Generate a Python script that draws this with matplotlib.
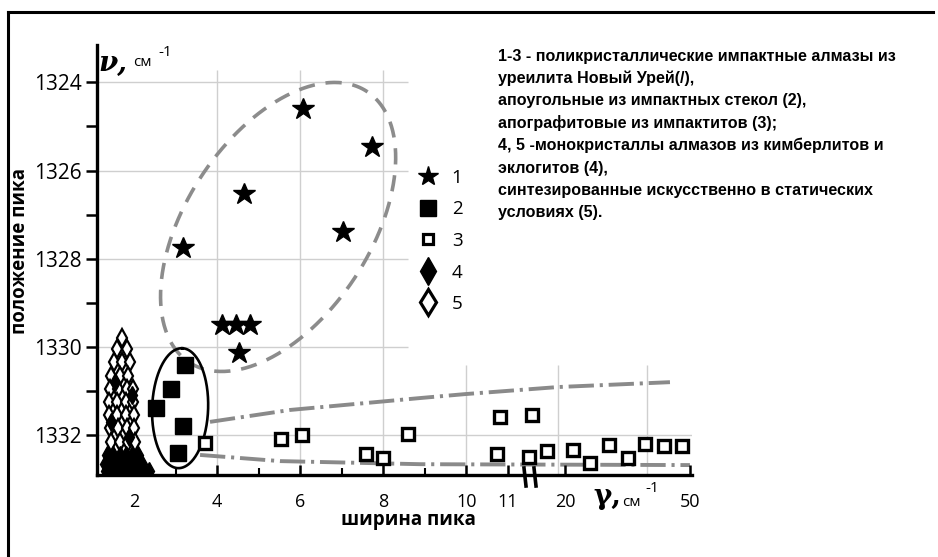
import numpy as np
import matplotlib
matplotlib.use("Agg")
import matplotlib.pyplot as plt
from matplotlib.lines import Line2D

plt.rcParams['font.family'] = ['Open Sans', 'DejaVu Sans']

# ---------------- data ----------------
# 1 - stars
stars_x = [3.18, 4.65, 6.07, 7.04, 7.73, 4.12, 4.46, 4.80, 4.53]
stars_y = [1327.76, 1326.53, 1324.61, 1327.39, 1325.47, 1329.50, 1329.50, 1329.50, 1330.14]
# 2 - filled squares
sq_fill_x = [3.23, 2.89, 2.53, 3.18, 3.06]
sq_fill_y = [1330.41, 1330.95, 1331.38, 1331.79, 1332.40]
# 3 - open squares
sq_open_x = [3.71, 5.54, 6.05, 7.59, 8.00, 8.60, 10.82, 11.85, 10.75, 11.55, 15.55,
             21.9, 26.0, 30.6, 35.1, 39.2, 43.8, 48.1]
sq_open_y = [1332.18, 1332.09, 1332.00, 1332.43, 1332.52, 1331.97, 1331.59, 1331.54,
             1332.43, 1332.50, 1332.36, 1332.34, 1332.63, 1332.22, 1332.52, 1332.20,
             1332.25, 1332.25]
# 4 - filled diamonds
dia_fill_x = [1.35, 1.50, 1.65, 1.80, 1.95, 2.10,
              1.30, 1.45, 1.60, 1.75, 1.90, 2.05, 2.20,
              1.32, 1.47, 1.62, 1.77, 1.92, 2.07, 2.22, 2.35,
              1.45, 1.95, 1.55, 1.88]
dia_fill_y = [1332.45, 1332.45, 1332.45, 1332.45, 1332.45, 1332.45,
              1332.65, 1332.65, 1332.65, 1332.65, 1332.65, 1332.65, 1332.65,
              1332.82, 1332.82, 1332.82, 1332.82, 1332.82, 1332.82, 1332.82, 1332.82,
              1331.70, 1331.10, 1330.80, 1332.05]
# 5 - open diamonds
dia_open_x = [1.72,
              1.60, 1.82,
              1.52, 1.72, 1.90,
              1.45, 1.65, 1.85,
              1.42, 1.62, 1.82, 1.98,
              1.40, 1.60, 1.80, 1.98,
              1.40, 1.60, 1.80, 2.00,
              1.42, 1.62, 1.82, 2.00,
              1.45, 1.65, 1.85, 2.02]
dia_open_y = [1329.80,
              1330.05, 1330.05,
              1330.35, 1330.35, 1330.35,
              1330.65, 1330.65, 1330.65,
              1330.95, 1330.95, 1330.95, 1330.95,
              1331.25, 1331.25, 1331.25, 1331.25,
              1331.55, 1331.55, 1331.55, 1331.55,
              1331.85, 1331.85, 1331.85, 1331.85,
              1332.15, 1332.15, 1332.15, 1332.15]

# trend lines (dash-dot)
upper_x = [3.83, 5.76, 8.89, 9.98, 18.3, 45.2]
upper_y = [1331.70, 1331.43, 1331.16, 1331.07, 1330.91, 1330.80]
lower_x = [3.59, 5.52, 8.89, 50.0]
lower_y = [1332.45, 1332.59, 1332.66, 1332.68]

# axis ticks
y_major = [1324, 1326, 1328, 1330, 1332]
y_minor = [1325, 1327, 1329, 1331]
x_ticks = [2, 4, 6, 8, 10, 11, 20, 50]
x_ticklabels = ['2', '4', '6', '8', '10', '11', '20', '50']
x_minor = [3, 5, 7, 9]

# broken width axis: value -> position knots
scale_vals = [1.0, 11.3, 11.6, 20.0, 52.0]
scale_pos = [0.0, 427.5, 438.5, 472.5, 605.5]

legend_labels = ['1', '2', '3', '4', '5']
note_lines = [
    "1-3 - поликристаллические импактные алмазы из",
    "уреилита Новый Урей(/),",
    "апоугольные из импактных стекол (2),",
    "апографитовые из импактитов (3);",
    "4, 5 -монокристаллы алмазов из кимберлитов и",
    "эклогитов (4),",
    "синтезированные искусственно в статических",
    "условиях (5).",
]

# ---------------- figure ----------------
W, H = 938, 557
fig = plt.figure(figsize=(W / 100, H / 100), dpi=100)
fig.patch.set_facecolor('white')


def fx(px):
    return px / W


def fy(py):
    return 1 - py / H


ax = fig.add_axes([fx(97), fy(475), (692 - 97) / W, (475 - 45) / H])


def fwd(v):
    return np.interp(np.asarray(v, dtype=float), scale_vals, scale_pos)


def inv(p):
    return np.interp(np.asarray(p, dtype=float), scale_pos, scale_vals)


ax.set_xscale('function', functions=(fwd, inv))
ax.set_xlim(1.108, 50.5)
ax.set_ylim(1332.905, 1323.154)

for s in ['top', 'right']:
    ax.spines[s].set_visible(False)
for s in ['left', 'bottom']:
    ax.spines[s].set_linewidth(2.4)
    ax.spines[s].set_color('black')

ax.set_yticks(y_major)
ax.set_yticks(y_minor, minor=True)
ax.set_xticks(x_ticks)
ax.set_xticklabels(x_ticklabels)
ax.set_xticks(x_minor, minor=True)
ax.tick_params(axis='y', which='both', direction='out', length=8, width=1.8, pad=3,
               labelsize=15)
ax.tick_params(axis='x', which='major', direction='in', length=7, width=1.8, pad=13,
               labelsize=13)
ax.tick_params(axis='x', which='minor', direction='in', length=5, width=1.5)

# grid (partial, as in the original)
gcol = '#cfcfcf'
ax.vlines([4, 6, 8], 1323.72, 1332.905, colors=gcol, lw=1.0, zorder=0)
ax.vlines([10, 18.3, 39.7], 1330.41, 1332.905, colors=gcol, lw=1.0, zorder=0)
ax.hlines([1324, 1326, 1328, 1330], 1.108, 8.6, colors=gcol, lw=1.0, zorder=0)
ax.hlines([1332], 1.108, 50.5, colors=gcol, lw=1.0, zorder=0)

# trend lines
ax.plot(upper_x, upper_y, color='#8a8a8a', lw=2.8, dashes=(6.5, 1.5, 0.8, 1.5), zorder=1)
ax.plot(lower_x, lower_y, color='#8a8a8a', lw=2.8, dashes=(6.5, 1.5, 0.8, 1.5), zorder=1)


def draw_ellipse(center, a, b, angle, **kw):
    t = np.linspace(0, 2 * np.pi, 400)
    cx, cy = ax.transData.transform(center)
    th = np.radians(angle)
    dx = a * np.cos(t) * np.cos(th) - b * np.sin(t) * np.sin(th)
    dy = a * np.cos(t) * np.sin(th) + b * np.sin(t) * np.cos(th)
    pts = ax.transData.inverted().transform(np.column_stack([cx + dx, cy + dy]))
    ax.plot(pts[:, 0], pts[:, 1], **kw)


draw_ellipse((5.47, 1327.28), 162, 92, 56.7, color='#8c8c8c', lw=2.6, dashes=(4.5, 3),
             zorder=2)
draw_ellipse((3.11, 1331.39), 60, 28, 88, color='black', lw=1.9, zorder=2)

# markers
ax.plot(dia_open_x, dia_open_y, ls='none', marker='d', ms=9, mfc='white', mec='black',
        mew=1.6, zorder=3)
ax.plot(dia_fill_x, dia_fill_y, ls='none', marker='d', ms=9, mfc='black', mec='black',
        zorder=3)
ax.plot(stars_x, stars_y, ls='none', marker='*', ms=16.5, color='black', zorder=4)
ax.plot(sq_fill_x, sq_fill_y, ls='none', marker='s', ms=11, color='black', zorder=4)
ax.plot(sq_open_x, sq_open_y, ls='none', marker='s', ms=9.2, mfc='white', mec='black',
        mew=2.4, zorder=4)

# legend
handles = [
    Line2D([], [], ls='none', marker='*', ms=15, color='black'),
    Line2D([], [], ls='none', marker='s', ms=12, color='black'),
    Line2D([], [], ls='none', marker='s', ms=7, mfc='white', mec='black', mew=2.3),
    Line2D([], [], ls='none', marker='d', ms=14, color='black'),
    Line2D([], [], ls='none', marker='d', ms=13, mfc='white', mec='black', mew=2.3),
]
leg = ax.legend(handles, legend_labels, loc='upper left',
                bbox_to_anchor=(fx(418), fy(169)), bbox_transform=fig.transFigure,
                frameon=False, fontsize=13.5, handlelength=1.1, handletextpad=0.7,
                labelspacing=0.72, borderpad=0, borderaxespad=0)

# axis titles
fig.text(fx(20), fy(251), 'положение пика', rotation=90, ha='center', va='center',
         fontsize=13.5, fontweight='bold')
fig.text(fx(408), fy(520), 'ширина пика', ha='center', va='center',
         fontsize=13.5, fontweight='bold')

# unit labels
fig.text(fx(113), fy(63), 'ν,', ha='center', va='center', fontsize=20,
         fontweight='bold', family='DejaVu Serif', style='italic')
fig.text(fx(133), fy(63), 'см', ha='left', va='center', fontsize=11)
fig.text(fx(158), fy(53), '-1', ha='left', va='center', fontsize=11)

fig.text(fx(607), fy(497), 'γ,', ha='center', va='center', fontsize=20,
         fontweight='bold', family='DejaVu Serif')
fig.text(fx(622), fy(503), 'см', ha='left', va='center', fontsize=11)
fig.text(fx(645), fy(489), '-1', ha='left', va='center', fontsize=11)

# axis break marks
for px in (525, 535):
    fig.add_artist(Line2D([fx(px - 1), fx(px + 1)], [fy(468), fy(486)], color='black',
                          lw=2.6))

# note text
for i, line in enumerate(note_lines):
    fig.text(fx(498), fy(56 + 22.4 * i), line, ha='left', va='center', fontsize=11.6,
             fontweight='bold', family=['Liberation Sans'])

# frame
fig.add_artist(Line2D([fx(8), fx(8)], [fy(557), fy(12)], color='black', lw=2.2))
fig.add_artist(Line2D([fx(8), fx(933)], [fy(12), fy(12)], color='black', lw=2.2))

fig.savefig('out.png', dpi=100)
